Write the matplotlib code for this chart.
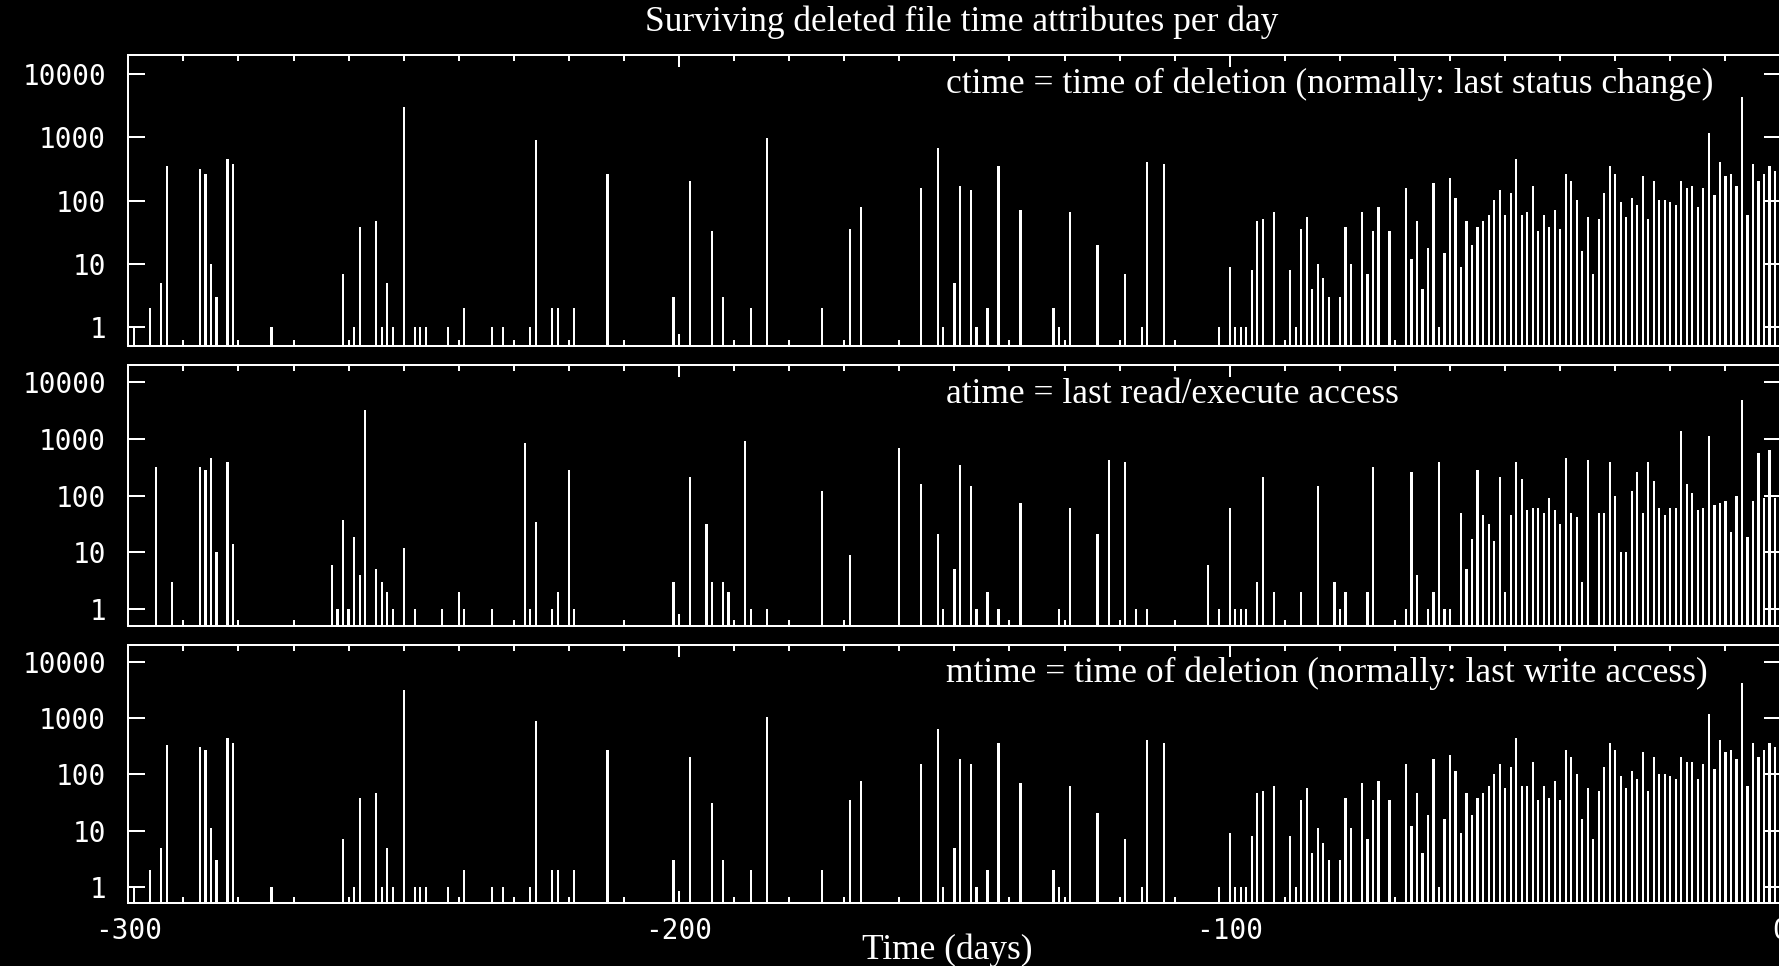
import matplotlib
matplotlib.use("Agg")
import matplotlib.pyplot as plt
from matplotlib.ticker import MultipleLocator, NullLocator


# ---------------------------------------------------------
# data: day offset (days before now) -> number of files
# ---------------------------------------------------------
ctime_days = [-299, -296, -294, -293, -287, -286, -285, -284, -282, -281, -274,
              -261, -259, -258, -255, -254, -253, -252, -250, -248, -247, -246,
              -242, -239, -234, -232, -227, -226, -223, -222, -219, -213, -201,
              -198, -194, -192, -187, -184, -174, -169, -167, -156, -153, -152,
              -150, -149, -147, -146, -144, -142, -138, -132, -131, -129, -124,
              -119, -116, -115, -112, -102, -100, -99, -98, -97, -96, -95, -94,
              -92, -89, -88, -87, -86, -85, -84, -83, -82, -80, -79, -78, -76,
              -75, -74, -73, -71, -68, -67, -66, -65, -64, -63, -62, -61, -60,
              -59, -58, -57, -56, -55, -54, -53, -52, -51, -50, -49, -48, -47,
              -46, -45, -44, -43, -42, -41, -40, -39, -38, -37, -36, -35, -34,
              -33, -32, -31, -30, -29, -28, -27, -26, -25, -24, -23, -22, -21,
              -20, -19, -18, -17, -16, -15, -14, -13, -12, -11, -10, -9, -8, -7,
              -6, -5, -4, -3, -2, -1]
ctime_counts = [1, 2, 5, 350, 320, 265, 10, 3, 450, 380, 1,
                7, 1, 39, 47, 1, 5, 1, 3000, 1, 1, 1,
                1, 2, 1, 1, 1, 920, 2, 2, 2, 265, 3,
                205, 33, 3, 2, 970, 2, 36, 79, 158, 690, 1,
                5, 172, 145, 1, 2, 347, 72, 2, 1, 66, 20,
                7, 1, 411, 378, 1, 9, 1, 1, 1, 8, 47, 51,
                66, 8, 1, 36, 55, 4, 10, 6, 3, 3, 39, 10, 66,
                7, 33, 79, 33, 158, 12, 47, 4, 18, 187, 1, 15, 224,
                112, 9, 47, 20, 39, 47, 60, 102, 145, 60, 133, 453, 60,
                66, 172, 33, 60, 39, 72, 36, 266, 206, 102, 16, 55, 7,
                51, 133, 347, 266, 94, 55, 112, 86, 244, 51, 206, 102, 102,
                94, 86, 206, 158, 172, 79, 158, 1170, 122, 411, 244, 266, 172, 4280,
                60, 378, 206, 266, 347, 289]

atime_days = [-295, -292, -287, -286, -285, -284, -282, -281, -263, -262, -261,
              -260, -259, -258, -257, -255, -254, -253, -252, -250, -248, -243,
              -240, -239, -234, -228, -227, -226, -223, -222, -220, -219, -201,
              -198, -195, -194, -192, -191, -188, -187, -184, -174, -169, -160,
              -156, -153, -152, -150, -149, -147, -146, -144, -142, -138, -131,
              -129, -124, -122, -119, -117, -115, -104, -102, -100, -99, -98,
              -97, -95, -94, -92, -87, -84, -81, -80, -79, -75, -74, -68, -67,
              -66, -64, -63, -62, -61, -60, -58, -57, -56, -55, -54, -53, -52,
              -51, -50, -49, -48, -47, -46, -45, -44, -43, -42, -41, -40, -39,
              -38, -37, -36, -35, -33, -32, -31, -30, -29, -28, -27, -26, -25,
              -24, -23, -22, -21, -20, -19, -18, -17, -16, -15, -14, -13, -12,
              -11, -10, -9, -8, -7, -6, -5, -4, -3, -2, -1]
atime_counts = [314, 3, 314, 285, 464, 10, 384, 14, 6, 1, 37,
                1, 19, 4, 3210, 5, 3, 2, 1, 12, 1, 1,
                2, 1, 1, 830, 1, 34, 1, 2, 285, 1, 3,
                215, 31, 3, 3, 2, 913, 1, 1, 120, 9, 678,
                160, 21, 1, 5, 345, 145, 1, 2, 1, 74, 1,
                61, 21, 422, 384, 1, 1, 6, 1, 61, 1, 1,
                1, 3, 215, 2, 2, 145, 3, 1, 2, 2, 314, 1, 256,
                4, 1, 2, 384, 1, 1, 50, 5, 17, 285, 46, 31, 16,
                215, 2, 46, 384, 195, 56, 61, 61, 50, 90, 56, 31, 464,
                50, 42, 3, 422, 50, 50, 384, 99, 10, 10, 120, 260, 50,
                384, 178, 61, 46, 61, 61, 1350, 160, 109, 56, 61, 1120, 67,
                74, 81, 23, 99, 4750, 19, 81, 561, 90, 625, 90]

mtime_days = ctime_days
mtime_counts = [1, 2, 5, 334, 303, 276, 11, 3, 445, 368, 1,
                7, 1, 38, 46, 1, 5, 1, 3160, 1, 1, 1,
                1, 2, 1, 1, 1, 896, 2, 2, 2, 276, 3,
                204, 31, 3, 2, 1028, 2, 35, 76, 151, 653, 1,
                5, 185, 151, 1, 2, 368, 69, 2, 1, 63, 21,
                7, 1, 405, 368, 1, 9, 1, 1, 1, 8, 46, 51,
                63, 8, 1, 35, 57, 4, 11, 6, 3, 3, 38, 11, 69,
                7, 35, 76, 35, 151, 12, 46, 4, 19, 185, 1, 16, 225,
                113, 9, 46, 19, 38, 46, 63, 103, 151, 57, 137, 445, 63,
                63, 166, 35, 63, 38, 76, 35, 276, 204, 103, 16, 57, 7,
                51, 137, 368, 276, 92, 57, 113, 84, 247, 51, 204, 103, 103,
                92, 84, 204, 166, 166, 84, 151, 1180, 124, 405, 247, 276, 185, 4220,
                63, 368, 204, 276, 368, 303]

panel_labels = ["ctime = time of deletion (normally: last status change)",
                "atime = last read/execute access",
                "mtime = time of deletion (normally: last write access)"]

y_ticks = [1, 10, 100, 1000, 10000]
y_tick_labels = ["1", "10", "100", "1000", "10000"]
x_ticks = [-300, -200, -100, 0]
x_tick_labels = ["-300", "-200", "-100", "0"]

series = [(ctime_days, ctime_counts), (atime_days, atime_counts),
          (mtime_days, mtime_counts)]

# ---------------------------------------------------------
# layout (pixel positions of the reference image)
# ---------------------------------------------------------
W, H = 1779, 966
x_left, x_right = 128.3, 1780.5
boxes = [(55, 345.7), (365, 625.7), (645, 903.3)]   # top, bottom
label_baselines = [92.7, 402.7, 681.7]

serif = "Liberation Serif"
mono = "DejaVu Sans Mono"
lw = 1.45

fig = plt.figure(figsize=(W / 100, H / 100), dpi=100, facecolor="black")

for i, ((days, counts), (top, bottom)) in enumerate(zip(series, boxes)):
    ax = fig.add_axes([x_left / W, 1 - bottom / H,
                       (x_right - x_left) / W, (bottom - top) / H])
    ax.set_facecolor("black")

    ax.bar(days, counts, width=0.4, color="white", linewidth=0)

    ax.set_yscale("log")
    ax.set_ylim(0.51, 20000)
    ax.set_xlim(-300, 0)

    ax.set_yticks(y_ticks)
    ax.set_yticklabels(y_tick_labels)
    ax.yaxis.set_minor_locator(NullLocator())
    ax.set_xticks(x_ticks)
    ax.set_xticklabels(x_tick_labels)
    ax.xaxis.set_minor_locator(MultipleLocator(10))

    for sp in ax.spines.values():
        sp.set_color("white")
        sp.set_linewidth(lw)

    ax.tick_params(axis="y", which="major", direction="in", length=12.2,
                   width=lw, left=True, right=True, colors="white", pad=16,
                   labelsize=20)
    ax.tick_params(axis="x", which="major", direction="in", length=8.8,
                   width=lw, top=True, bottom=True, colors="white", pad=10,
                   labelsize=20)
    ax.tick_params(axis="x", which="minor", direction="in", length=4.2,
                   width=lw, top=True, bottom=True, colors="white")
    for lab in ax.get_xticklabels() + ax.get_yticklabels():
        lab.set_family(mono)
    if i < 2:
        ax.tick_params(axis="x", labelbottom=False)

    fig.text(946 / W, 1 - label_baselines[i] / H, panel_labels[i],
             color="white", fontsize=25.5, family=serif, va="baseline", ha="left")

fig.text(962 / W, 1 - 31 / H, "Surviving deleted file time attributes per day",
         color="white", fontsize=25.5, family=serif, va="baseline", ha="center")
fig.text(947 / W, 1 - 959 / H, "Time (days)",
         color="white", fontsize=25.5, family=serif, va="baseline", ha="center")

fig.savefig("out.png", dpi=100, facecolor="black")
plt.close(fig)
